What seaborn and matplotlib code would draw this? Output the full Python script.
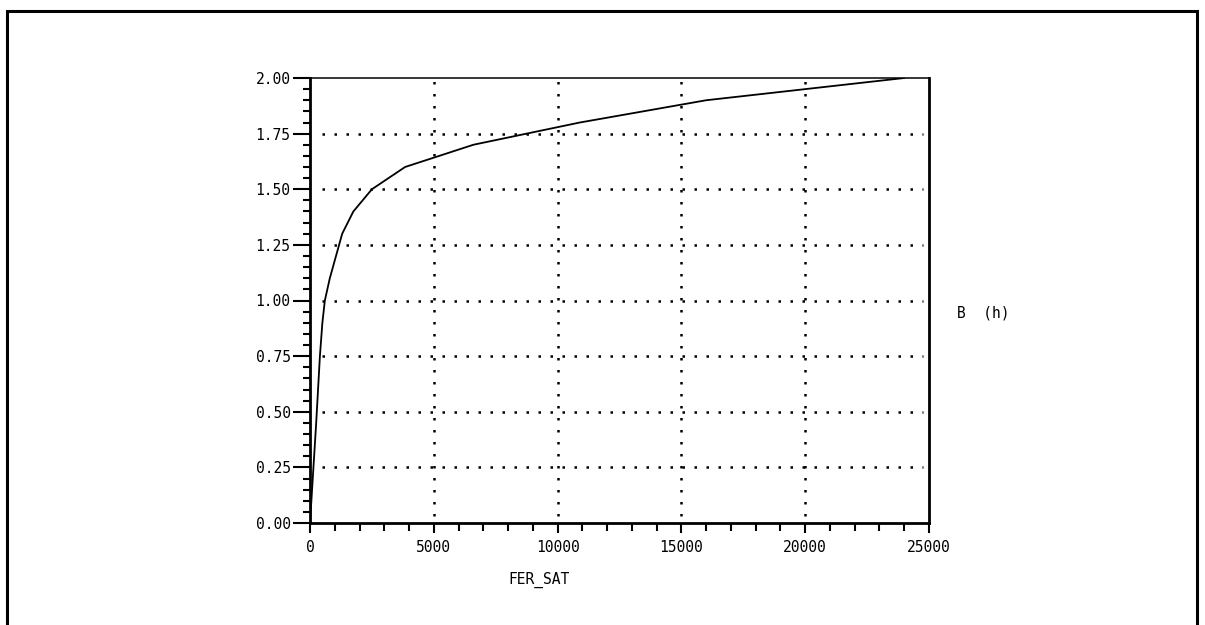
import matplotlib
matplotlib.use("Agg")
import matplotlib.pyplot as plt
from matplotlib.ticker import MultipleLocator
from matplotlib.patches import Rectangle
import seaborn as sns
import pandas as pd

# Data (B-H curve)
h_values = [0, 250, 400, 500, 600, 800, 1300, 1750, 2500, 3840, 6600, 10900, 16000, 24000]
b_values = [0.0, 0.45, 0.75, 0.9, 1.0, 1.1, 1.3, 1.4, 1.5, 1.6, 1.7, 1.8, 1.9, 2.0]
x_label = "FER_SAT"
y_label = "B  (h)"
x_ticks = [0, 5000, 10000, 15000, 20000, 25000]
y_ticks = [0.0, 0.25, 0.5, 0.75, 1.0, 1.25, 1.5, 1.75, 2.0]
x_tick_labels = ["0", "5000", "10000", "15000", "20000", "25000"]
y_tick_labels = ["0.00", "0.25", "0.50", "0.75", "1.00", "1.25", "1.50", "1.75", "2.00"]

sns.set_theme(style="white")
plt.rcParams['font.family'] = ['DejaVu Sans Mono', 'DejaVu Sans']
plt.rcParams['text.color'] = 'black'
plt.rcParams['xtick.color'] = 'black'
plt.rcParams['ytick.color'] = 'black'

df = pd.DataFrame({"H": h_values, "B": b_values})

fig = plt.figure(figsize=(12.05, 6.25), dpi=100)
ax = fig.add_axes([310/1205, 102/625, 619/1205, 445/625])

sns.lineplot(data=df, x="H", y="B", ax=ax, color="black", linewidth=1.3, sort=False)

ax.set_xlim(0, 25000)
ax.set_ylim(0, 2.0)
ax.set_xticks(x_ticks)
ax.set_yticks(y_ticks)
ax.xaxis.set_minor_locator(MultipleLocator(1000))
ax.yaxis.set_minor_locator(MultipleLocator(0.05))
ax.set_xticklabels(x_tick_labels)
ax.set_yticklabels(y_tick_labels)

ax.tick_params(axis="x", which="major", direction="out", length=7, width=1.5,
               labelsize=10.5, pad=5, bottom=True, labelcolor="black")
ax.tick_params(axis="x", which="minor", direction="out", length=5.5, width=1.5, bottom=True)
ax.tick_params(axis="y", which="major", direction="out", length=12, width=1.5,
               labelsize=10.5, pad=2, left=True, labelcolor="black")
ax.tick_params(axis="y", which="minor", direction="out", length=5, width=1.5, left=True)

for s in ["left", "bottom", "right"]:
    ax.spines[s].set_color("black")
    ax.spines[s].set_linewidth(2)
ax.spines["top"].set_color("black")
ax.spines["top"].set_linewidth(1.1)

# dotted grid
dot_style = (0, (1, 3.8))
for xv in x_ticks[1:-1]:
    ax.axvline(xv, ymin=0.015, ymax=1.012, color="black", linewidth=1.8, linestyle=dot_style,
               zorder=0, clip_on=False)
for yv in y_ticks[1:-1]:
    ax.axhline(yv, xmin=0.02, xmax=0.99, color="black", linewidth=1.8, linestyle=dot_style, zorder=0)

ax.set_xlabel("")
ax.set_ylabel("")
fig.text(957/1205, 1 - 313/625, y_label, fontsize=10.5, ha="left", va="center")
fig.text(508/1205, 1 - 580/625, x_label, fontsize=10.5, ha="left", va="center")

# outer frame
fig.patches.append(Rectangle((7/1205, -0.05), 1190/1205, 1 - 11/625 + 0.05,
                             transform=fig.transFigure, fill=False, edgecolor="black",
                             linewidth=2.2, zorder=10))

fig.savefig("out.png", dpi=100, facecolor="white")
